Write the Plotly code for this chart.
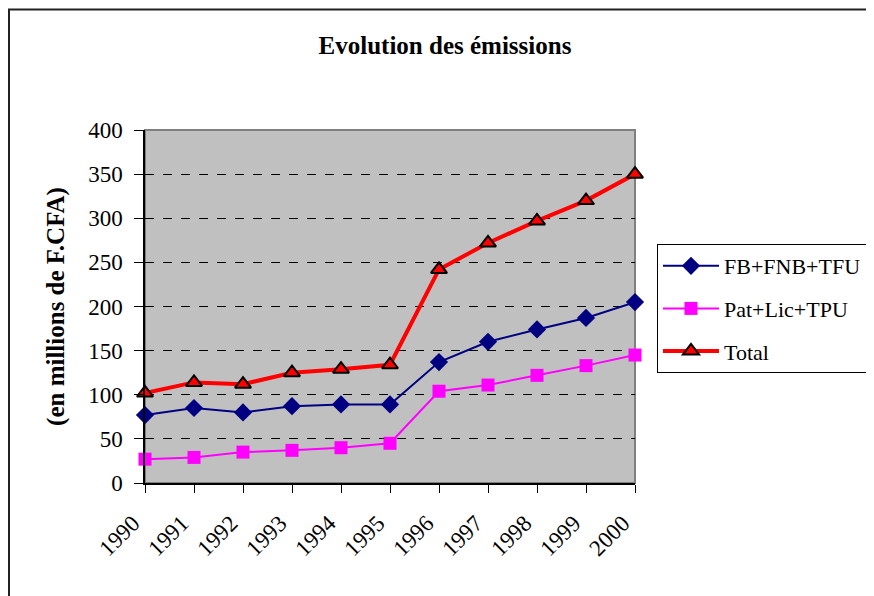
import plotly.graph_objects as go

years = [1990, 1991, 1992, 1993, 1994, 1995, 1996, 1997, 1998, 1999, 2000]
fb_fnb_tfu = [77, 85, 80, 87, 89, 89, 137, 160, 174, 187, 205]
pat_lic_tpu = [27, 29, 35, 37, 40, 45, 104, 111, 122, 133, 145]
total = [102, 114, 112, 125, 129, 134, 242, 272, 297, 320, 350]
y_ticks = [0, 50, 100, 150, 200, 250, 300, 350, 400]

FONT = "Liberation Serif"

OFF = 8  # page body margin
W, H = 874, 596
PL, PR, PT, PB = 145, 635, 130, 483  # desired plot area in page pixels
pw, ph = PR - PL, PB - PT
L, T = PL - OFF, PT - OFF
R, B = W - L - pw, H - T - ph

fig = go.Figure()
fig.add_trace(go.Scatter(
    x=years, y=fb_fnb_tfu, name="FB+FNB+TFU", mode="lines+markers",
    line=dict(color="#000080", width=2),
    marker=dict(symbol="diamond", size=14, color="#000080"),
    cliponaxis=False, legendgroup="a"))
fig.add_trace(go.Scatter(
    x=years, y=pat_lic_tpu, name="Pat+Lic+TPU", mode="lines+markers",
    line=dict(color="#FF00FF", width=2),
    marker=dict(symbol="square", size=13, color="#FF00FF"),
    cliponaxis=False, legendgroup="b"))
fig.add_trace(go.Scatter(
    x=years, y=total, name="Total", mode="lines+markers",
    line=dict(color="#FF0000", width=4),
    marker=dict(symbol="triangle-up", size=14, color="#FF0000",
                line=dict(color="black", width=2)),
    cliponaxis=False, legendgroup="c"))

# outer chart border (top and left visible)
bx = (9 - PL) / pw
by = 1 + (PT - 9.5) / ph
fig.add_shape(type="path", xref="paper", yref="paper",
              path=f"M {bx} -1 L {bx} {by} L 2 {by}",
              line=dict(color="#222222", width=2))
# plot area border
fig.add_shape(type="rect", xref="paper", yref="paper", x0=0, x1=1, y0=0, y1=1,
              line=dict(color="#808080", width=2), layer="below")

fig.update_layout(
    width=W, height=H,
    margin=dict(l=L, r=R, t=T, b=B, autoexpand=False),
    paper_bgcolor="white",
    plot_bgcolor="#C0C0C0",
    font=dict(family=FONT, color="black", size=23),
    title=dict(text="<b>Evolution des émissions</b>", x=(445 - OFF) / W, xanchor="center",
               y=1 - (45 - OFF) / H, yanchor="middle", font=dict(size=25, family=FONT)),
    xaxis=dict(range=[1990, 2000], tickvals=years, ticktext=[str(y) for y in years],
               tickangle=-45, ticks="outside", ticklen=8, tickcolor="black",
               showline=True, linecolor="black", linewidth=1.5, showgrid=False,
               zeroline=False, tickfont=dict(size=23, family=FONT),
               ticklabelstandoff=8, ticklabelshift=-12),
    yaxis=dict(range=[0, 400], tickvals=y_ticks, ticks="outside", ticklen=9,
               tickcolor="black", showline=True, linecolor="black", linewidth=1.5,
               showgrid=True, gridcolor="black", griddash="dash", gridwidth=1,
               zeroline=False, tickfont=dict(size=23, family=FONT),
               ticklabelstandoff=7,
               title=dict(text="<b>(en millions de F.CFA)</b>",
                          font=dict(size=25, family=FONT), standoff=16)),
    legend=dict(x=(657 - PL) / pw, xanchor="left", y=(PB - 244) / ph, yanchor="top",
                bordercolor="black", borderwidth=1, bgcolor="white",
                font=dict(size=22, family=FONT), itemwidth=56,
                tracegroupgap=11, traceorder="grouped"),
    showlegend=True,
)

fig.write_html("out.html")
